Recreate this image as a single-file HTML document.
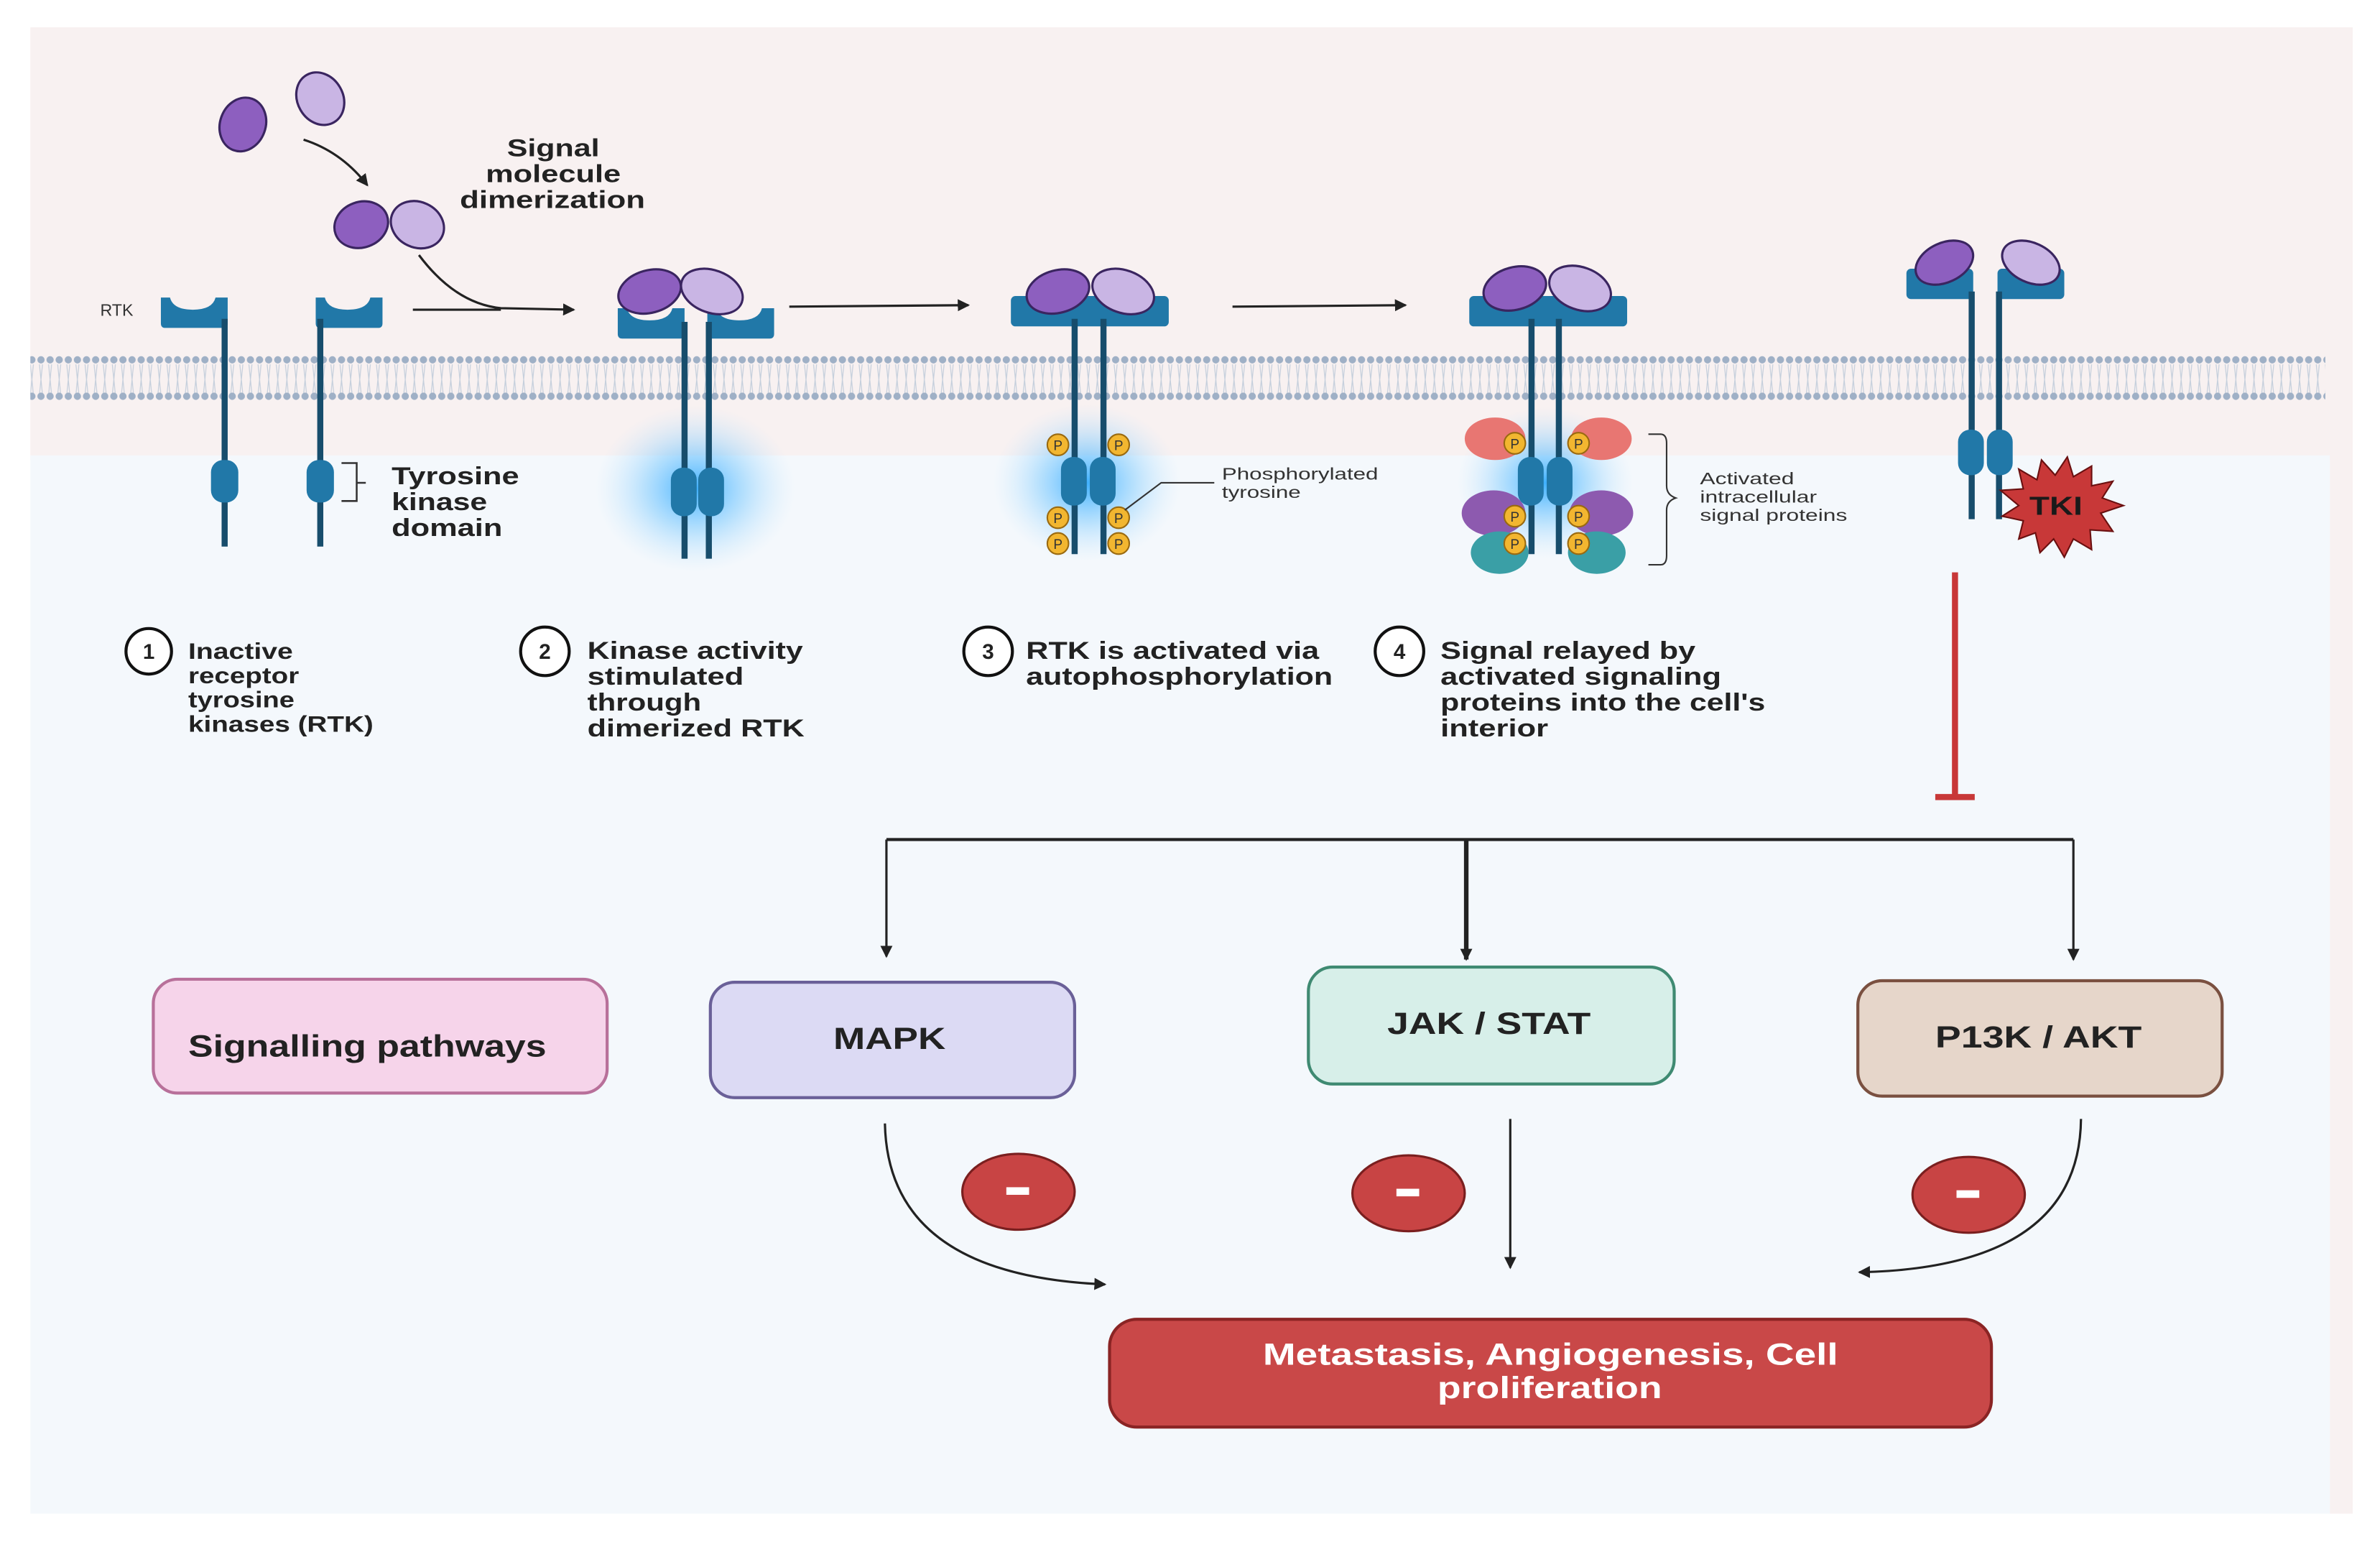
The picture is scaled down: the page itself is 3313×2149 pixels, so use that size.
<!DOCTYPE html>
<html><head><meta charset="utf-8"><style>
html,body{margin:0;padding:0;background:#fff;}
svg{display:block;}
text{font-family:"Liberation Sans",sans-serif;font-weight:bold;fill:#222;}
</style></head><body>
<svg width="3313" height="2149" viewBox="0 0 1568 1017" preserveAspectRatio="none" xmlns="http://www.w3.org/2000/svg">
<defs>
<pattern id="dots" x="0" y="0" width="6" height="6" patternUnits="userSpaceOnUse"><circle cx="3" cy="3" r="2.4" fill="#9fb0c6"/></pattern>
<pattern id="tails" x="0" y="0" width="6" height="20" patternUnits="userSpaceOnUse"><path d="M2 0 L3 10 L2 20 M4 0 L3 10 L4 20" stroke="#c5cfdc" stroke-width="0.6" fill="none"/></pattern>
<radialGradient id="glow"><stop offset="0" stop-color="#2aa8ff" stop-opacity="0.9"/><stop offset="0.5" stop-color="#6cc4ff" stop-opacity="0.45"/><stop offset="1" stop-color="#bfe4ff" stop-opacity="0"/></radialGradient>
<marker id="ah" markerWidth="8" markerHeight="8" refX="7" refY="4" orient="auto" markerUnits="userSpaceOnUse"><path d="M0 0 L8 4 L0 8 Z" fill="#222"/></marker>
<g id="cupL"><path d="M0 0 h6 q2 8 15 8 q13 0 15 -8 h8 v17 q0 3 -3 3 h-38 q-3 0 -3 -3 Z" fill="#2178a8"/></g>
<g id="pp"><circle r="7" fill="#f2b630" stroke="#9a6a10" stroke-width="1"/><text x="0" y="3.5" font-size="9" text-anchor="middle" style="font-weight:normal;fill:#333">P</text></g>
</defs>
<rect x="0" y="0" width="1568" height="1017" fill="#fff"/>
<rect x="20" y="18" width="1530" height="285" fill="#f8f1f1"/>
<rect x="20" y="300" width="1515" height="697" fill="#f4f8fc"/>
<rect x="1535" y="300" width="15" height="697" fill="#f8f1f1"/>
<!-- membrane -->
<rect x="20" y="240" width="1512" height="20" fill="url(#tails)"/>
<rect x="20" y="234" width="1512" height="6" fill="url(#dots)"/>
<rect x="20" y="258" width="1512" height="6" fill="url(#dots)"/>

<!-- ligands -->
<ellipse cx="160" cy="82" rx="15" ry="18" transform="rotate(20 160 82)" fill="#8d5fbf" stroke="#3a2560" stroke-width="1.5"/>
<ellipse cx="211" cy="65" rx="15" ry="18" transform="rotate(-30 211 65)" fill="#c9b5e4" stroke="#3a2560" stroke-width="1.5"/>
<path d="M200 92 Q225 100 242 122" stroke="#222" stroke-width="1.5" fill="none" marker-end="url(#ah)"/>
<ellipse cx="238" cy="148" rx="18" ry="15" transform="rotate(-20 238 148)" fill="#8d5fbf" stroke="#3a2560" stroke-width="1.5"/>
<ellipse cx="275" cy="148" rx="18" ry="15" transform="rotate(25 275 148)" fill="#c9b5e4" stroke="#3a2560" stroke-width="1.5"/>
<text x="334" y="103" font-size="16" textLength="61" lengthAdjust="spacingAndGlyphs">Signal</text>
<text x="320" y="120" font-size="16" textLength="89" lengthAdjust="spacingAndGlyphs">molecule</text>
<text x="303" y="137" font-size="16" textLength="122" lengthAdjust="spacingAndGlyphs">dimerization</text>
<path d="M276 168 Q300 200 330 203 L378 204" stroke="#222" stroke-width="1.5" fill="none" marker-end="url(#ah)"/>
<path d="M272 204 L330 204" stroke="#222" stroke-width="1.5" fill="none"/>

<!-- stage 1 -->
<text x="66" y="208" font-size="11" style="font-weight:normal;fill:#333">RTK</text>
<use href="#cupL" x="106" y="196"/>
<use href="#cupL" x="208" y="196"/>
<line x1="148" y1="210" x2="148" y2="360" stroke="#174d6c" stroke-width="4"/>
<line x1="211" y1="210" x2="211" y2="360" stroke="#174d6c" stroke-width="4"/>
<rect x="139" y="303" width="18" height="28" rx="8" fill="#2178a8"/>
<rect x="202" y="303" width="18" height="28" rx="8" fill="#2178a8"/>
<path d="M225 305 h10 v25 h-10 M235 318 h6" stroke="#333" stroke-width="1.2" fill="none"/>
<text x="258" y="319" font-size="16" textLength="84" lengthAdjust="spacingAndGlyphs">Tyrosine</text>
<text x="258" y="336" font-size="16" textLength="63" lengthAdjust="spacingAndGlyphs">kinase</text>
<text x="258" y="353" font-size="16" textLength="73" lengthAdjust="spacingAndGlyphs">domain</text>

<!-- stage 2 -->
<ellipse cx="458" cy="322" rx="66" ry="55" fill="url(#glow)"/>
<use href="#cupL" x="407" y="203"/>
<use href="#cupL" x="466" y="203"/>
<ellipse cx="428" cy="192" rx="21" ry="14" transform="rotate(-15 428 192)" fill="#8d5fbf" stroke="#3a2560" stroke-width="1.5"/>
<ellipse cx="469" cy="192" rx="21" ry="14" transform="rotate(20 469 192)" fill="#c9b5e4" stroke="#3a2560" stroke-width="1.5"/>
<line x1="451" y1="212" x2="451" y2="368" stroke="#174d6c" stroke-width="4"/>
<line x1="467" y1="212" x2="467" y2="368" stroke="#174d6c" stroke-width="4"/>
<rect x="442" y="308" width="17" height="32" rx="8" fill="#2178a8"/>
<rect x="460" y="308" width="17" height="32" rx="8" fill="#2178a8"/>
<line x1="520" y1="202" x2="638" y2="201" stroke="#222" stroke-width="1.5" marker-end="url(#ah)"/>

<!-- stage 3 -->
<ellipse cx="716" cy="318" rx="62" ry="52" fill="url(#glow)"/>
<rect x="666" y="195" width="104" height="20" rx="3" fill="#2178a8"/>
<ellipse cx="697" cy="192" rx="21" ry="14" transform="rotate(-15 697 192)" fill="#8d5fbf" stroke="#3a2560" stroke-width="1.5"/>
<ellipse cx="740" cy="192" rx="21" ry="14" transform="rotate(20 740 192)" fill="#c9b5e4" stroke="#3a2560" stroke-width="1.5"/>
<line x1="708" y1="210" x2="708" y2="365" stroke="#174d6c" stroke-width="4"/>
<line x1="727" y1="210" x2="727" y2="365" stroke="#174d6c" stroke-width="4"/>
<rect x="699" y="301" width="17" height="32" rx="8" fill="#2178a8"/>
<rect x="718" y="301" width="17" height="32" rx="8" fill="#2178a8"/>
<use href="#pp" x="697" y="293"/><use href="#pp" x="737" y="293"/>
<use href="#pp" x="697" y="341"/><use href="#pp" x="737" y="341"/>
<use href="#pp" x="697" y="358"/><use href="#pp" x="737" y="358"/>
<path d="M741 336 L765 318 H800" stroke="#333" stroke-width="1" fill="none"/>
<text x="805" y="316" font-size="11" textLength="103" lengthAdjust="spacingAndGlyphs" style="font-weight:normal;fill:#333">Phosphorylated</text>
<text x="805" y="328" font-size="11" textLength="52" lengthAdjust="spacingAndGlyphs" style="font-weight:normal;fill:#333">tyrosine</text>
<line x1="812" y1="202" x2="926" y2="201" stroke="#222" stroke-width="1.5" marker-end="url(#ah)"/>

<!-- stage 4 -->
<ellipse cx="1018" cy="318" rx="58" ry="50" fill="url(#glow)"/>
<rect x="968" y="195" width="104" height="20" rx="3" fill="#2178a8"/>
<ellipse cx="998" cy="190" rx="21" ry="14" transform="rotate(-15 998 190)" fill="#8d5fbf" stroke="#3a2560" stroke-width="1.5"/>
<ellipse cx="1041" cy="190" rx="21" ry="14" transform="rotate(20 1041 190)" fill="#c9b5e4" stroke="#3a2560" stroke-width="1.5"/>
<g fill="#e87672"><ellipse cx="985" cy="289" rx="20" ry="14"/><ellipse cx="1055" cy="289" rx="20" ry="14"/></g>
<g fill="#8d5aaf"><ellipse cx="984" cy="338" rx="21" ry="15"/><ellipse cx="1055" cy="338" rx="21" ry="15"/></g>
<g fill="#3a9fa6"><ellipse cx="988" cy="364" rx="19" ry="14"/><ellipse cx="1052" cy="364" rx="19" ry="14"/></g>
<line x1="1009" y1="210" x2="1009" y2="365" stroke="#174d6c" stroke-width="4"/>
<line x1="1027" y1="210" x2="1027" y2="365" stroke="#174d6c" stroke-width="4"/>
<rect x="1000" y="301" width="17" height="32" rx="8" fill="#2178a8"/>
<rect x="1019" y="301" width="17" height="32" rx="8" fill="#2178a8"/>
<use href="#pp" x="998" y="292"/><use href="#pp" x="1040" y="292"/>
<use href="#pp" x="998" y="340"/><use href="#pp" x="1040" y="340"/>
<use href="#pp" x="998" y="358"/><use href="#pp" x="1040" y="358"/>
<path d="M1086 286 h8 q4 0 4 6 v28 q0 6 6 8 q-6 2 -6 8 v30 q0 6 -4 6 h-8" stroke="#333" stroke-width="1" fill="none"/>
<text x="1120" y="319" font-size="11" textLength="62" lengthAdjust="spacingAndGlyphs" style="font-weight:normal;fill:#333">Activated</text>
<text x="1120" y="331" font-size="11" textLength="77" lengthAdjust="spacingAndGlyphs" style="font-weight:normal;fill:#333">intracellular</text>
<text x="1120" y="343" font-size="11" textLength="97" lengthAdjust="spacingAndGlyphs" style="font-weight:normal;fill:#333">signal proteins</text>

<!-- stage 5 TKI -->
<rect x="1256" y="177" width="44" height="20" rx="3" fill="#2178a8"/>
<rect x="1316" y="177" width="44" height="20" rx="3" fill="#2178a8"/>
<ellipse cx="1281" cy="173" rx="20" ry="13" transform="rotate(-25 1281 173)" fill="#8d5fbf" stroke="#3a2560" stroke-width="1.5"/>
<ellipse cx="1338" cy="173" rx="20" ry="13" transform="rotate(25 1338 173)" fill="#c9b5e4" stroke="#3a2560" stroke-width="1.5"/>
<line x1="1299" y1="192" x2="1299" y2="342" stroke="#174d6c" stroke-width="4"/>
<line x1="1317" y1="192" x2="1317" y2="342" stroke="#174d6c" stroke-width="4"/>
<rect x="1290" y="283" width="17" height="30" rx="8" fill="#2178a8"/>
<rect x="1309" y="283" width="17" height="30" rx="8" fill="#2178a8"/>
<polygon fill="#c83838" stroke="#6a1010" stroke-width="1" points="1399,333 1384,338 1392,350 1377,349 1378,362 1366,355 1360,367 1353,355 1344,364 1341,351 1330,355 1333,343 1319,340 1330,333 1318,323 1333,322 1330,309 1342,316 1345,303 1354,313 1362,301 1366,314 1378,307 1378,320 1392,317 1385,328"/>
<text x="1337" y="339" font-size="17" textLength="35" lengthAdjust="spacingAndGlyphs" style="fill:#1a1a1a">TKI</text>
<line x1="1288" y1="377" x2="1288" y2="525" stroke="#c83838" stroke-width="4"/>
<line x1="1275" y1="525" x2="1301" y2="525" stroke="#c83838" stroke-width="4"/>

<!-- step labels -->
<g fill="#fff" stroke="#111" stroke-width="2">
<circle cx="98" cy="429" r="15"/><circle cx="359" cy="429" r="16"/><circle cx="651" cy="429" r="16"/><circle cx="922" cy="429" r="16"/></g>
<text x="98" y="434" font-size="14" text-anchor="middle">1</text>
<text x="359" y="434" font-size="14" text-anchor="middle">2</text>
<text x="651" y="434" font-size="14" text-anchor="middle">3</text>
<text x="922" y="434" font-size="14" text-anchor="middle">4</text>
<g font-size="16">
<text x="124" y="434" font-size="15" textLength="69" lengthAdjust="spacingAndGlyphs">Inactive</text>
<text x="124" y="450" font-size="15" textLength="73" lengthAdjust="spacingAndGlyphs">receptor</text>
<text x="124" y="466" font-size="15" textLength="70" lengthAdjust="spacingAndGlyphs">tyrosine</text>
<text x="124" y="482" font-size="15" textLength="122" lengthAdjust="spacingAndGlyphs">kinases (RTK)</text>
<text x="387" y="434" textLength="142" lengthAdjust="spacingAndGlyphs">Kinase activity</text>
<text x="387" y="451" textLength="103" lengthAdjust="spacingAndGlyphs">stimulated</text>
<text x="387" y="468" textLength="75" lengthAdjust="spacingAndGlyphs">through</text>
<text x="387" y="485" textLength="143" lengthAdjust="spacingAndGlyphs">dimerized RTK</text>
<text x="676" y="434" textLength="193" lengthAdjust="spacingAndGlyphs">RTK is activated via</text>
<text x="676" y="451" textLength="202" lengthAdjust="spacingAndGlyphs">autophosphorylation</text>
<text x="949" y="434" textLength="168" lengthAdjust="spacingAndGlyphs">Signal relayed by</text>
<text x="949" y="451" textLength="185" lengthAdjust="spacingAndGlyphs">activated signaling</text>
<text x="949" y="468" textLength="214" lengthAdjust="spacingAndGlyphs">proteins into the cell's</text>
<text x="949" y="485" textLength="71" lengthAdjust="spacingAndGlyphs">interior</text>
</g>

<!-- branching -->
<path d="M584 553 H1366" stroke="#222" stroke-width="2" fill="none"/>
<line x1="584" y1="553" x2="584" y2="630" stroke="#222" stroke-width="1.5" marker-end="url(#ah)"/>
<line x1="966" y1="553" x2="966" y2="632" stroke="#222" stroke-width="3" marker-end="url(#ah)"/>
<line x1="1366" y1="553" x2="1366" y2="632" stroke="#222" stroke-width="1.5" marker-end="url(#ah)"/>

<rect x="101" y="645" width="299" height="75" rx="16" fill="#f6d4ea" stroke="#b8709a" stroke-width="2"/>
<text x="124" y="696" font-size="20" textLength="236" lengthAdjust="spacingAndGlyphs">Signalling pathways</text>
<rect x="468" y="647" width="240" height="76" rx="16" fill="#dcdaf4" stroke="#6a6098" stroke-width="2"/>
<text x="549" y="691" font-size="20" textLength="74" lengthAdjust="spacingAndGlyphs">MAPK</text>
<rect x="862" y="637" width="241" height="77" rx="16" fill="#d7efe9" stroke="#3f8a72" stroke-width="2"/>
<text x="914" y="681" font-size="20" textLength="134" lengthAdjust="spacingAndGlyphs">JAK / STAT</text>
<rect x="1224" y="646" width="240" height="76" rx="16" fill="#e6d6ca" stroke="#7a5040" stroke-width="2"/>
<text x="1275" y="690" font-size="20" textLength="136" lengthAdjust="spacingAndGlyphs">P13K / AKT</text>

<path d="M583 740 Q585 840 728 846" stroke="#222" stroke-width="1.5" fill="none" marker-end="url(#ah)"/>
<line x1="995" y1="737" x2="995" y2="835" stroke="#222" stroke-width="1.5" marker-end="url(#ah)"/>
<path d="M1371 737 Q1370 835 1225 838" stroke="#222" stroke-width="1.5" fill="none" marker-end="url(#ah)"/>
<g fill="#c84444" stroke="#7a1f1f" stroke-width="1.5">
<ellipse cx="671" cy="785" rx="37" ry="25"/><ellipse cx="928" cy="786" rx="37" ry="25"/><ellipse cx="1297" cy="787" rx="37" ry="25"/></g>
<g fill="#fff"><rect x="663" y="782" width="15" height="5"/><rect x="920" y="783" width="15" height="5"/><rect x="1289" y="784" width="15" height="5"/></g>

<rect x="731" y="869" width="581" height="71" rx="18" fill="#c94848" stroke="#8a2424" stroke-width="2"/>
<text x="832" y="899" font-size="20" textLength="379" lengthAdjust="spacingAndGlyphs" style="fill:#fff">Metastasis, Angiogenesis, Cell</text>
<text x="947" y="921" font-size="20" textLength="148" lengthAdjust="spacingAndGlyphs" style="fill:#fff">proliferation</text>
</svg>
</body></html>
